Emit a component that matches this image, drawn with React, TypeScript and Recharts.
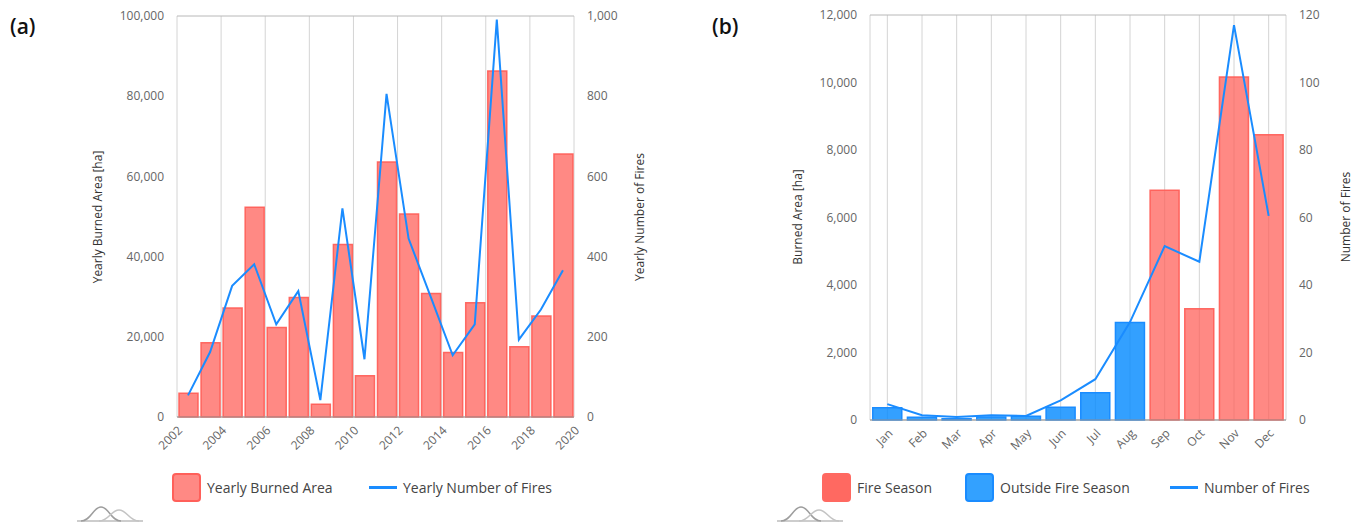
import {
  ComposedChart, Bar, Line, XAxis, YAxis, CartesianGrid, Cell,
} from "recharts";

// ── Data ─────────────────────────────────────────────────────────────

const YEARS = [2002, 2003, 2004, 2005, 2006, 2007, 2008, 2009, 2010, 2011, 2012, 2013, 2014, 2015, 2016, 2017, 2018, 2019];
const YEARLY_BURNED = [5900, 18500, 27200, 52300, 22300, 29800, 3200, 43000, 10300, 63600, 50600, 30800, 16100, 28500, 86300, 17500, 25200, 65600];
const YEARLY_FIRES = [54, 162, 327, 381, 231, 314, 42, 520, 144, 806, 445, 300, 154, 231, 991, 193, 268, 366];
const YEAR_TICKS = [2002, 2004, 2006, 2008, 2010, 2012, 2014, 2016, 2018, 2020];
const AREA_TICKS = [0, 20000, 40000, 60000, 80000, 100000];
const FIRE_TICKS = [0, 200, 400, 600, 800, 1000];

const MONTHS = ["Jan", "Feb", "Mar", "Apr", "May", "Jun", "Jul", "Aug", "Sep", "Oct", "Nov", "Dec"];
const MONTHLY_BURNED = [360, 80, 40, 90, 110, 380, 810, 2890, 6810, 3300, 10160, 8450];
const MONTHLY_FIRES = [4.7, 1.4, 0.9, 1.4, 1.2, 5.8, 12.1, 29, 51.5, 46.9, 117, 60.5];
const FIRE_SEASON = ["Sep", "Oct", "Nov", "Dec"];
const MONTH_AREA_TICKS = [0, 2000, 4000, 6000, 8000, 10000, 12000];
const MONTH_FIRE_TICKS = [0, 20, 40, 60, 80, 100, 120];

// ── Styles ───────────────────────────────────────────────────────────

const FONT = "'Open Sans', sans-serif";
const RED_FILL = "rgba(255,92,85,0.72)";
const RED_STROKE = "rgba(255,92,85,0.9)";
const BLUE_FILL = "rgba(0,136,255,0.8)";
const BLUE_STROKE = "#1a8cff";
const LINE = "#1a8cff";
const V_GRID = "#d4d4d4";
const H_GRID = "#b8b8b8";
const tick = { fill: "#666", fontSize: 12, fontFamily: FONT };
const fmt = (v: number) => v.toLocaleString("en-US");

const yearlyData = YEARS.map((y, i) => ({
  x: y + 0.5,
  area: YEARLY_BURNED[i],
  fires: YEARLY_FIRES[i],
}));

const monthlyData = MONTHS.map((m, i) => ({
  month: m,
  area: MONTHLY_BURNED[i],
  fires: MONTHLY_FIRES[i],
  season: FIRE_SEASON.includes(m),
}));

function AxisTitle({ text, x, y }: { text: string; x: number; y: number }) {
  return (
    <div style={{
      position: "absolute", left: x, top: y, transform: "translate(-50%,-50%) rotate(-90deg)",
      whiteSpace: "nowrap", fontSize: 12, color: "#333", fontFamily: FONT,
    }}>{text}</div>
  );
}

function Swatch({ x, fill, stroke, label }: { x: number; fill: string; stroke: string; label: string }) {
  return (
    <div style={{ position: "absolute", left: x, top: 473, display: "flex", alignItems: "center" }}>
      <div style={{
        width: 25, height: 25, borderRadius: 4, background: fill, border: `2px solid ${stroke}`,
      }} />
      <span style={{ marginLeft: 6, fontSize: 14, color: "#444", fontFamily: FONT }}>{label}</span>
    </div>
  );
}

function LineKey({ x, w, label }: { x: number; w: number; label: string }) {
  return (
    <div style={{ position: "absolute", left: x, top: 473, height: 29, display: "flex", alignItems: "center" }}>
      <div style={{ width: w, height: 3, background: LINE }} />
      <span style={{ marginLeft: 6, fontSize: 14, color: "#444", fontFamily: FONT }}>{label}</span>
    </div>
  );
}

function Logo({ x }: { x: number }) {
  return (
    <svg style={{ position: "absolute", left: x, top: 505 }} width={66} height={18}>
      <path d="M0 16 L66 16" stroke="#bdbdbd" strokeWidth={1.5} />
      <path d="M4 16 C14 16 16 2 24 2 C32 2 34 16 44 16" stroke="#9e9e9e" fill="none" strokeWidth={1.5} />
      <path d="M22 16 C32 16 34 5 42 5 C50 5 52 16 62 16" stroke="#c4c4c4" fill="none" strokeWidth={1.5} />
    </svg>
  );
}

export default function App() {
  return (
    <div style={{ position: "absolute", left: 0, top: 0, width: 1354, height: 525, background: "#fff", fontFamily: FONT }}>
      {/* ── Panel (a) ── */}
      <div style={{ position: "absolute", left: 10, top: 12, fontSize: 21, fontWeight: 600, color: "#111" }}>(a)</div>
      <div style={{ position: "absolute", left: 0, top: 0 }}>
        <ComposedChart width={680} height={470} data={yearlyData}
          margin={{ top: 16, right: 46, left: 117, bottom: 13 }}>
          <CartesianGrid horizontal={false} stroke={V_GRID} />
          <CartesianGrid vertical={false} stroke={H_GRID} />
          <XAxis dataKey="x" type="number" domain={[2002, 2020]} ticks={YEAR_TICKS} height={40}
            angle={-45} textAnchor="end" tick={tick} tickLine={false} stroke="#999" interval={0} />
          <YAxis yAxisId="left" width={60} domain={[0, 100000]} ticks={AREA_TICKS}
            tickFormatter={fmt} tick={tick} axisLine={false} tickLine={false} tickMargin={7} />
          <YAxis yAxisId="right" orientation="right" width={60} domain={[0, 1000]} ticks={FIRE_TICKS}
            tickFormatter={fmt} tick={tick} axisLine={false} tickLine={false} tickMargin={7} />
          <Bar yAxisId="left" dataKey="area" barSize={19} fill={RED_FILL} stroke={RED_STROKE}
            strokeWidth={1.5} isAnimationActive={false} />
          <Line yAxisId="right" dataKey="fires" type="linear" stroke={LINE} strokeWidth={2}
            dot={false} isAnimationActive={false} />
        </ComposedChart>
      </div>
      <AxisTitle text="Yearly Burned Area [ha]" x={97} y={217} />
      <AxisTitle text="Yearly Number of Fires" x={639} y={217} />
      <Swatch x={172} fill={RED_FILL} stroke={RED_STROKE} label="Yearly Burned Area" />
      <LineKey x={369} w={28} label="Yearly Number of Fires" />
      <Logo x={77} />

      {/* ── Panel (b) ── */}
      <div style={{ position: "absolute", left: 712, top: 12, fontSize: 21, fontWeight: 600, color: "#111" }}>(b)</div>
      <div style={{ position: "absolute", left: 700, top: 0 }}>
        <ComposedChart width={654} height={470} data={monthlyData} barCategoryGap="8%"
          margin={{ top: 15, right: 8, left: 110, bottom: 10 }}>
          <CartesianGrid horizontal={false} stroke={V_GRID} />
          <CartesianGrid vertical={false} stroke={H_GRID} />
          <XAxis dataKey="month" height={40} angle={-45} textAnchor="end" tick={tick}
            tickLine={false} stroke="#999" interval={0} />
          <YAxis yAxisId="left" width={60} domain={[0, 12000]} ticks={MONTH_AREA_TICKS}
            tickFormatter={fmt} tick={tick} axisLine={false} tickLine={false} tickMargin={7} />
          <YAxis yAxisId="right" orientation="right" width={60} domain={[0, 120]} ticks={MONTH_FIRE_TICKS}
            tick={tick} axisLine={false} tickLine={false} tickMargin={7} />
          <Bar yAxisId="left" dataKey="area" strokeWidth={1.5} isAnimationActive={false}>
            {monthlyData.map((d) => (
              <Cell key={d.month} fill={d.season ? RED_FILL : BLUE_FILL} stroke={d.season ? RED_STROKE : BLUE_STROKE} />
            ))}
          </Bar>
          <Line yAxisId="right" dataKey="fires" type="linear" stroke={LINE} strokeWidth={2}
            dot={false} isAnimationActive={false} />
        </ComposedChart>
      </div>
      <AxisTitle text="Burned Area [ha]" x={797} y={217} />
      <AxisTitle text="Number of Fires" x={1345} y={217} />
      <Swatch x={822} fill="#ff6961" stroke="#ff6961" label="Fire Season" />
      <Swatch x={965} fill="#33a1ff" stroke={BLUE_STROKE} label="Outside Fire Season" />
      <LineKey x={1170} w={28} label="Number of Fires" />
      <Logo x={777} />
    </div>
  );
}
